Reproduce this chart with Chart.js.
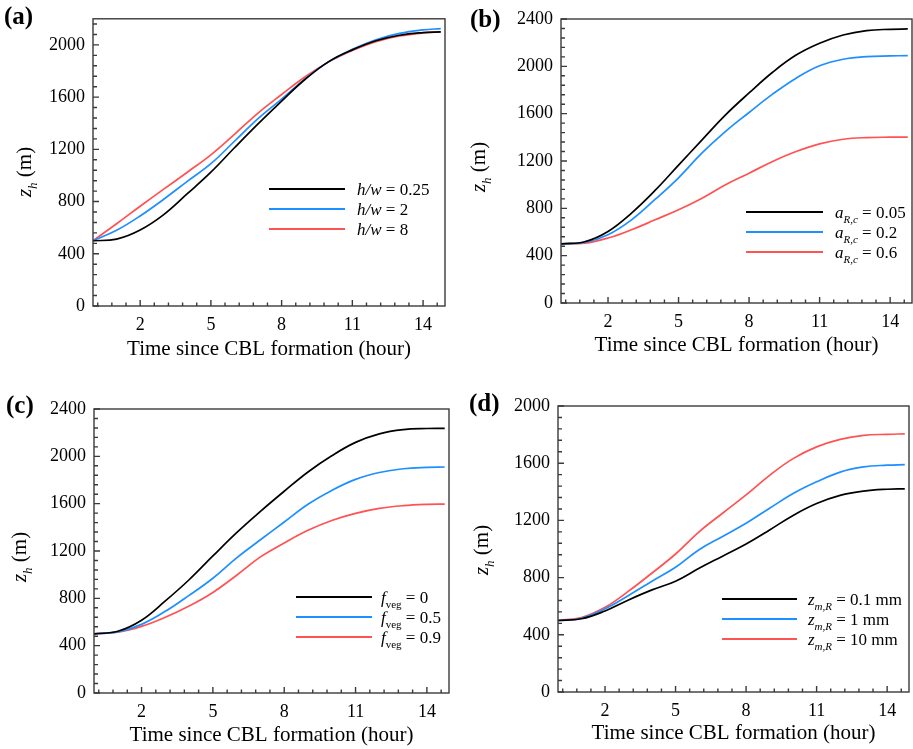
<!DOCTYPE html>
<html><head><meta charset="utf-8">
<script src="https://cdn.jsdelivr.net/npm/chart.js@4.4.1/dist/chart.umd.min.js"></script>
<style>
html,body{margin:0;padding:0;background:#fff;}
#wrap{position:relative;width:913px;height:749px;overflow:hidden;background:#fff;}
.pane{position:absolute;}
</style></head><body><div id="wrap">
<div class="pane" style="left:0;top:0"><canvas id="ca" width="456" height="370"></canvas></div>
<div class="pane" style="left:456px;top:0"><canvas id="cb" width="457" height="370"></canvas></div>
<div class="pane" style="left:0;top:385px"><canvas id="cc" width="456" height="364"></canvas></div>
<div class="pane" style="left:456px;top:385px"><canvas id="cd" width="457" height="364"></canvas></div>
</div>
<script>
// ---------------- data ----------------
const hours = [0, 1, 2, 3, 4, 5, 6, 7, 8, 9, 10, 11, 12, 13, 14, 14.75];
const xTickValues = [2, 5, 8, 11, 14];
const yTicks2200 = [0, 400, 800, 1200, 1600, 2000];
const yTicks2400 = [0, 400, 800, 1200, 1600, 2000, 2400];
const yTicks2000 = [0, 400, 800, 1200, 1600, 2000];
const xTitle = 'Time since CBL formation (hour)';

// (a) h/w
const a_hw025 = [500, 512, 582, 700, 860, 1025, 1212, 1395, 1570, 1737, 1872, 1962, 2032, 2074, 2094, 2100];
const a_hw2   = [500, 580, 690, 818, 955, 1090, 1262, 1435, 1585, 1740, 1872, 1966, 2040, 2088, 2115, 2125];
const a_hw8   = [500, 630, 764, 895, 1025, 1158, 1315, 1478, 1620, 1756, 1870, 1957, 2025, 2068, 2092, 2100];
// (b) a_R,c
const b_a005 = [500, 518, 605, 760, 951, 1165, 1379, 1590, 1775, 1950, 2095, 2195, 2265, 2302, 2313, 2316];
const b_a02  = [500, 511, 577, 703, 875, 1058, 1268, 1450, 1610, 1765, 1900, 2005, 2060, 2082, 2088, 2091];
const b_a06  = [500, 505, 549, 619, 703, 788, 886, 999, 1097, 1196, 1280, 1345, 1384, 1398, 1401, 1402];
// (c) f_veg
const c_f0  = [500, 522, 615, 778, 957, 1158, 1355, 1535, 1705, 1868, 2005, 2118, 2190, 2225, 2235, 2236];
const c_f05 = [500, 516, 580, 690, 825, 970, 1142, 1295, 1445, 1595, 1712, 1805, 1863, 1895, 1907, 1910];
const c_f09 = [500, 514, 563, 640, 735, 850, 995, 1150, 1268, 1375, 1458, 1518, 1560, 1583, 1594, 1596];
// (d) z_m,R
const d_z01 = [500, 512, 567, 644, 714, 775, 865, 950, 1035, 1133, 1235, 1318, 1375, 1405, 1418, 1421];
const d_z1  = [500, 516, 582, 675, 775, 872, 995, 1088, 1180, 1285, 1388, 1470, 1538, 1574, 1586, 1590];
const d_z10 = [500, 521, 592, 705, 832, 965, 1120, 1250, 1378, 1515, 1632, 1714, 1767, 1795, 1802, 1805];

// legend labels (rich text segments: i = italic, s = subscript)
const legA = [[{t:'h/w',i:1},{t:' = 0.25'}], [{t:'h/w',i:1},{t:' = 2'}], [{t:'h/w',i:1},{t:' = 8'}]];
const legB = [[{t:'a',i:1},{t:'R,c',i:1,s:1},{t:' = 0.05'}], [{t:'a',i:1},{t:'R,c',i:1,s:1},{t:' = 0.2'}], [{t:'a',i:1},{t:'R,c',i:1,s:1},{t:' = 0.6'}]];
const legC = [[{t:'f',i:1},{t:'veg',s:1},{t:' = 0'}], [{t:'f',i:1},{t:'veg',s:1},{t:' = 0.5'}], [{t:'f',i:1},{t:'veg',s:1},{t:' = 0.9'}]];
const legD = [[{t:'z',i:1},{t:'m,R',i:1,s:1},{t:' = 0.1 mm'}], [{t:'z',i:1},{t:'m,R',i:1,s:1},{t:' = 1 mm'}], [{t:'z',i:1},{t:'m,R',i:1,s:1},{t:' = 10 mm'}]];
const yTitleSegs = [{t:'z',i:1},{t:'h',i:1,s:1},{t:' (m)'}];

const colors = ['#000000', '#1E8FFF', '#FF5252'];
const FONT = '"Liberation Serif", "Times New Roman", serif';

function segFont(s, size) {
  const sz = s.s ? Math.round(size * 0.62) : size;
  return (s.i ? 'italic ' : '') + sz + 'px ' + FONT;
}
function drawRich(ctx, segs, x, y, size, align) {
  let w = 0;
  const ws = segs.map(s => { ctx.font = segFont(s, size); const m = ctx.measureText(s.t).width; w += m; return m; });
  let cx = align === 'center' ? x - w / 2 : x;
  segs.forEach((s, k) => {
    ctx.font = segFont(s, size);
    ctx.fillText(s.t, cx, y + (s.s ? size * 0.3 : 0));
    cx += ws[k];
  });
}

const decor = {
  id: 'decor',
  afterDraw(chart) {
    const o = chart.options.plugins.decor;
    const ctx = chart.ctx;
    const {left, right, top, bottom} = chart.chartArea;
    const xs = chart.scales.x, ys = chart.scales.y;
    ctx.save();
    ctx.strokeStyle = '#3a3a3a';
    ctx.lineWidth = 1.4;
    ctx.strokeRect(left, top, right - left, bottom - top);
    ctx.beginPath();
    for (let k = 0; k <= 30; k++) {
      const v = Math.round((0.2 + 0.6 * k) * 10) / 10;
      if (v > xs.max) break;
      const major = xTickValues.includes(v);
      const px = xs.getPixelForValue(v);
      ctx.moveTo(px, bottom); ctx.lineTo(px, bottom - (major ? 6 : 3.5));
    }
    for (let v = 0; v <= ys.max; v += 80) {
      const major = v % 400 === 0;
      const py = ys.getPixelForValue(v);
      ctx.moveTo(left, py); ctx.lineTo(left + (major ? 6 : 4), py);
    }
    ctx.stroke();

    ctx.fillStyle = '#000';
    ctx.textBaseline = 'alphabetic';
    ctx.textAlign = 'left';
    // panel tag
    ctx.font = 'bold 25px ' + FONT;
    ctx.fillText(o.tag, o.tagX - o.ox, o.tagY - o.oy);
    // x title
    ctx.font = '21px ' + FONT;
    ctx.textAlign = 'center';
    ctx.fillText(xTitle, (left + right) / 2, o.xtY - o.oy);
    ctx.textAlign = 'left';
    // y title (rotated)
    ctx.save();
    ctx.translate(o.ytX - o.ox, o.ytY - o.oy);
    ctx.rotate(-Math.PI / 2);
    drawRich(ctx, yTitleSegs, 0, 0, 21, 'center');
    ctx.restore();
    // legend
    const L = o.leg;
    chart.data.datasets.forEach((ds, k) => {
      const yy = L.y0 + k * L.dy - o.oy;
      ctx.strokeStyle = ds.borderColor;
      ctx.lineWidth = 1.8;
      ctx.beginPath();
      ctx.moveTo(L.x1 - o.ox, yy); ctx.lineTo(L.x2 - o.ox, yy);
      ctx.stroke();
      drawRich(ctx, L.items[k], L.tx - o.ox, yy + 6, 17, 'left');
    });
    ctx.restore();
  }
};

const panels = [
  {id:'ca', tag:'(a)', ox:0, oy:0, yW:93, xH:64, pad:{top:11, right:11},
   yMax:2200, yTicks:yTicks2200, series:[a_hw025, a_hw2, a_hw8], names:['h/w = 0.25','h/w = 2','h/w = 8'],
   tagX:4, tagY:24, xtY:355, ytX:31, ytY:172,
   leg:{x1:269, x2:345, tx:357, y0:189, dy:20, items:legA}},
  {id:'cb', tag:'(b)', ox:456, oy:0, yW:105, xH:67, pad:{top:19, right:1},
   yMax:2400, yTicks:yTicks2400, series:[b_a005, b_a02, b_a06], names:['a_R,c = 0.05','a_R,c = 0.2','a_R,c = 0.6'],
   tagX:470, tagY:27, xtY:351, ytX:485, ytY:167,
   leg:{x1:746, x2:823, tx:835, y0:212, dy:20, items:legB}},
  {id:'cc', tag:'(c)', ox:0, oy:385, yW:94, xH:56, pad:{top:24, right:7},
   yMax:2400, yTicks:yTicks2400, series:[c_f0, c_f05, c_f09], names:['f_veg = 0','f_veg = 0.5','f_veg = 0.9'],
   tagX:6, tagY:413, xtY:741, ytX:26, ytY:557,
   leg:{x1:296, x2:372, tx:381, y0:597, dy:20, items:legC}},
  {id:'cd', tag:'(d)', ox:456, oy:385, yW:102, xH:57, pad:{top:21, right:4},
   yMax:2000, yTicks:yTicks2000, series:[d_z01, d_z1, d_z10], names:['z_m,R = 0.1 mm','z_m,R = 1 mm','z_m,R = 10 mm'],
   tagX:469, tagY:411, xtY:739, ytX:488, ytY:550,
   leg:{x1:722, x2:797, tx:808, y0:599, dy:20, items:legD}}
];

panels.forEach(p => {
  new Chart(document.getElementById(p.id), {
    type: 'line',
    data: {
      datasets: p.series.map((s, k) => ({
        label: p.names[k],
        data: hours.map((t, i) => ({x: t, y: s[i]})),
        borderColor: colors[k],
        borderWidth: 1.7,
        pointRadius: 0,
        fill: false,
        tension: 0.4
      }))
    },
    options: {
      responsive: false,
      animation: false,
      devicePixelRatio: 1,
      layout: {padding: {left: 0, bottom: 0, top: p.pad.top, right: p.pad.right}},
      plugins: {
        legend: {display: false},
        tooltip: {enabled: false},
        decor: {tag:p.tag, ox:p.ox, oy:p.oy, tagX:p.tagX, tagY:p.tagY, xtY:p.xtY, ytX:p.ytX, ytY:p.ytY, leg:p.leg}
      },
      scales: {
        x: {
          type: 'linear', min: 0, max: 14.93,
          afterBuildTicks: sc => { sc.ticks = xTickValues.map(v => ({value: v})); },
          afterFit: sc => { sc.height = p.xH; },
          grid: {display: false, drawTicks: false},
          border: {display: false},
          ticks: {color: '#000', font: {family: FONT, size: 18}, padding: 8, maxRotation: 0, autoSkip: false,
                  callback: v => String(v)}
        },
        y: {
          type: 'linear', min: 0, max: p.yMax,
          afterBuildTicks: sc => { sc.ticks = p.yTicks.map(v => ({value: v})); },
          afterFit: sc => { sc.width = p.yW; },
          grid: {display: false, drawTicks: false},
          border: {display: false},
          ticks: {color: '#000', font: {family: FONT, size: 18}, padding: 8, autoSkip: false,
                  callback: v => String(v)}
        }
      }
    },
    plugins: [decor]
  });
});
</script>
</body></html>
